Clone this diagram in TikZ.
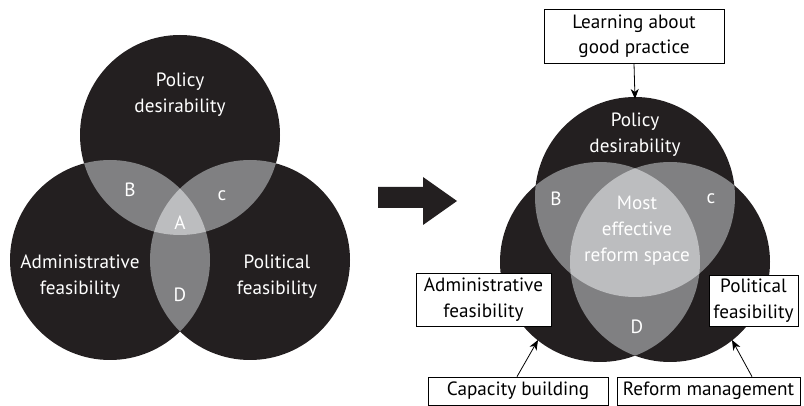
\documentclass[tikz,border=0pt]{standalone}
\usepackage{fontspec}
\setmainfont{PT Sans}
\usetikzlibrary{arrows.meta}
\definecolor{dark}{HTML}{231F20}
\definecolor{mid}{HTML}{808082}
\definecolor{light}{HTML}{BCBDBF}
\tikzset{
  lbl/.style={text=white,align=center,font=\fontsize{19.2}{26}\selectfont,inner sep=0pt},
  boxlbl/.style={draw=black,fill=white,line width=0.7pt,align=center,font=\fontsize{19.2}{25.5}\selectfont,inner sep=0pt},
  conn/.style={line width=0.8pt,-{Stealth[length=10pt,width=8pt,inset=3pt]}}
}
\begin{document}
\begin{tikzpicture}[x=1pt,y=-1pt]
\useasboundingbox (0,0) rectangle (804,406);
% ---------- left diagram ----------
\def\rr{100}
\coordinate (lt) at (180,135);
\coordinate (ll) at (110,260);
\coordinate (lr) at (250,260);
\fill[dark] (lt) circle (\rr) (ll) circle (\rr) (lr) circle (\rr);
\begin{scope}\clip (lt) circle (\rr); \fill[mid] (ll) circle (\rr) (lr) circle (\rr); \end{scope}
\begin{scope}\clip (ll) circle (\rr); \fill[mid] (lr) circle (\rr); \end{scope}
\begin{scope}\clip (lt) circle (\rr); \clip (ll) circle (\rr); \fill[light] (lr) circle (\rr); \end{scope}
\node[lbl] (lpd) at (180,95) {Policy\\desirability};
\node[lbl] (laf) at (80,277) {Administrative\\feasibility};
\node[lbl] (lpf) at (277,277) {Political\\feasibility};
\node[lbl] (lB) at (130,190) {B};
\node[lbl] (lC) at (222,196) {c};
\node[lbl] (lA) at (180,223) {A};
\node[lbl] (lD) at (180,295) {D};
% ---------- big arrow ----------
\fill[dark] (378,187) -- (423,187) -- (423,177) -- (457,201) -- (423,225) -- (423,208) -- (378,208) -- cycle;
% ---------- right diagram ----------
\coordinate (rt) at (635,197);
\coordinate (rl) at (600,262);
\coordinate (rr) at (670,262);
\fill[dark] (rt) circle (\rr) (rl) circle (\rr) (rr) circle (\rr);
\begin{scope}\clip (rt) circle (\rr); \fill[mid] (rl) circle (\rr) (rr) circle (\rr); \end{scope}
\begin{scope}\clip (rl) circle (\rr); \fill[mid] (rr) circle (\rr); \end{scope}
\begin{scope}\clip (rt) circle (\rr); \clip (rl) circle (\rr); \fill[light] (rr) circle (\rr); \end{scope}
\node[lbl] (rpd) at (635,135) {Policy\\desirability};
\node[lbl] (rB) at (556,199) {B};
\node[lbl] (rC) at (711,199) {c};
\node[lbl] (rM) at (637,231) {Most\\effective\\reform space};
\node[lbl] (rD) at (637,327) {D};
% boxes
\node[boxlbl,minimum width=180pt,minimum height=54pt] (learn) at (634,36) {Learning about\\good practice};
\node[boxlbl,minimum width=135pt,minimum height=53pt] (adm) at (483.5,299.5) {Administrative\\feasibility};
\node[boxlbl,minimum width=89pt,minimum height=51pt] (pol) at (753.5,300.5) {Political\\feasibility};
\node[boxlbl,minimum width=180pt,minimum height=28pt] (cap) at (518,391) {Capacity building};
\node[boxlbl,minimum width=183pt,minimum height=28pt] (ref) at (708.5,391) {Reform management};
\coordinate (tarr) at (635,99);
\coordinate (carr) at (538,340);
\coordinate (rarr) at (732,340);
\draw[conn] (learn.south) -- (tarr);
\draw[conn] (cap.north -| 517,0) -- (carr);
\draw[conn] (ref.north -| 752,0) -- (rarr);
\end{tikzpicture}
\end{document}
